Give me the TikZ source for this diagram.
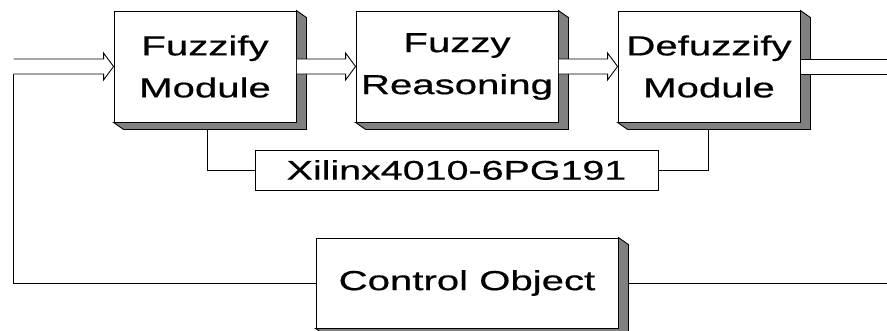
\documentclass[tikz,border=0pt]{standalone}
\usepackage{fontspec}
\newfontfamily\lblfont[FakeStretch=1.46,FakeBold=0.6]{Liberation Sans}
\usetikzlibrary{calc}
\newcommand\boxshade[1]{%
  \draw[shadebox] (#1.north east) -- ++(10,7) -- ($(#1.south east)+(10,7)$)
    -- ($(#1.south west)+(10,7)$) -- (#1.south west) -- (#1.south east) -- cycle;}
\newcommand\hollowarrow[2]{%
  \draw[fill=white] ($(#1)+(0.5,-7.5)$) -- ($(#2)+(-10,-7.5)$) -- ($(#2)+(-10,-13.5)$)
    -- (#2) -- ($(#2)+(-10,13.5)$) -- ($(#2)+(-10,7.5)$) -- ($(#1)+(0.5,7.5)$);}
\begin{document}
\begin{tikzpicture}[x=1pt,y=-1pt,line width=0.9pt,
  blk/.style={draw,fill=white,inner sep=0pt,align=center,
    font=\lblfont\fontsize{27.5}{42}\selectfont},
  shadebox/.style={draw,fill=black!50},
  wire/.style={draw,line width=0.9pt}]
\clip (0,0) rectangle (887,330);
\useasboundingbox (0,0) rectangle (887,330);
% blocks
\node[blk,minimum width=182pt,minimum height=111pt] (fz) at (205,66.5) {Fuzzify\\Module};
\node[blk,minimum width=202pt,minimum height=111pt] (fr) at (457,66.5) {Fuzzy\\Reasoning};
\node[blk,minimum width=182pt,minimum height=111pt] (df) at (709,66.5) {Defuzzify\\Module};
\node[blk,minimum width=403pt,minimum height=40pt,
  font=\lblfont\fontsize{27}{32}\selectfont] (xl) at (456.5,170) {Xilinx4010-6PG191};
\node[blk,minimum width=302pt,minimum height=90pt] (co) at (467,283) {Control Object};
\boxshade{fz}
\boxshade{fr}
\boxshade{df}
\boxshade{co}
% free ends
\coordinate (in) at (13,66.5);
\coordinate (out) at (887,66.5);
\coordinate (coout) at (887,283);
% hollow arrows
\hollowarrow{in}{fz.west}
\hollowarrow{fz.east}{fr.west}
\hollowarrow{fr.east}{df.west}
\fill[white] ($(df.east)+(0.5,-7.5)$) rectangle ($(out)+(0,7.5)$);
\draw[wire] ($(df.east)+(0.5,-7.5)$) -- ($(out)+(0,-7.5)$);
\draw[wire] ($(df.east)+(0.5,7.5)$) -- ($(out)+(0,7.5)$);
% chip connections
\draw[wire] ($(fz.south)+(2,7)$) |- (xl.west);
\draw[wire] ($(df.south)+(-1,7)$) |- (xl.east);
% feedback loop
\draw[wire] (co.west) -| ($(in)+(0,7.5)$);
\draw[wire] ($(co.east)+(10,0)$) -- (coout);
\end{tikzpicture}
\end{document}
